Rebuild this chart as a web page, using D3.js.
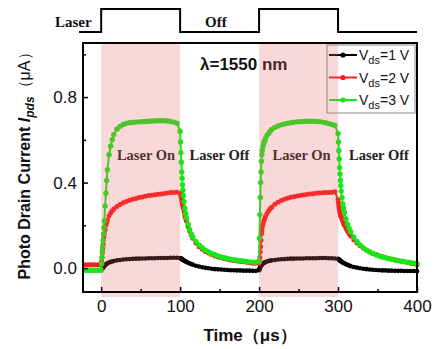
<!DOCTYPE html>
<html><head><meta charset="utf-8">
<script src="https://cdn.jsdelivr.net/npm/d3@7/dist/d3.min.js"></script>
<style>body{margin:0;background:#fff}svg{display:block}</style>
</head><body><svg id="c" width="434" height="349"></svg>
<script>
// ---------------- data ----------------
const time = [-20,-16,-12,-8,-4,
 0,0.5,1,1.5,2,2.5,3,3.5,4,5,6,7,8,10,12,14,16,20,24,28,32,36,40,44,48,52,56,60,64,68,72,76,80,84,88,92,96,
 100,100.5,101,101.5,102,102.5,103,103.5,104,105,106,107,108,110,112,114,116,120,124,128,132,136,140,144,148,152,156,160,164,168,172,176,180,184,188,192,196,
 200,200.5,201,201.5,202,202.5,203,203.5,204,205,206,207,208,210,212,214,216,220,224,228,232,236,240,244,248,252,256,260,264,268,272,276,280,284,288,292,296,
 300,300.5,301,301.5,302,302.5,303,303.5,304,305,306,307,308,310,312,314,316,320,324,328,332,336,340,344,348,352,356,360,364,368,372,376,380,384,388,392,396,
 400];
const vds1 = [-0.01,-0.01,-0.01,-0.01,-0.01,
 -0.01,-0.008,-0.005,-0.002,0.0,0.003,0.005,0.008,0.01,0.014,0.017,0.02,0.022,0.026,0.029,0.031,0.033,
 0.036,0.038,0.04,0.041,0.042,0.043,0.044,0.044,0.045,0.045,0.046,0.046,0.046,0.047,0.047,0.047,0.047,0.048,0.048,0.048,
 0.047,0.046,0.045,0.044,0.042,0.041,0.04,0.038,0.037,0.035,0.033,0.031,0.029,0.025,0.022,0.019,0.016,
 0.011,0.007,0.004,0.001,-0.001,-0.003,-0.005,-0.006,-0.007,-0.008,-0.009,-0.01,-0.01,-0.011,-0.011,-0.012,-0.012,-0.012,-0.013,-0.013,
 -0.01,-0.005,0.0,0.004,0.008,0.011,0.014,0.016,0.018,0.021,0.024,0.026,0.028,0.031,0.033,0.035,0.036,
 0.038,0.04,0.041,0.042,0.043,0.044,0.044,0.045,0.045,0.045,0.046,0.046,0.046,0.046,0.047,0.047,0.047,0.046,0.046,0.045,
 0.043,0.042,0.04,0.039,0.037,0.036,0.034,0.033,0.031,0.028,0.026,0.024,0.022,0.018,0.015,0.012,0.009,
 0.005,0.002,-0.001,-0.003,-0.005,-0.007,-0.008,-0.009,-0.01,-0.011,-0.011,-0.012,-0.012,-0.013,-0.013,-0.013,-0.014,-0.014,-0.014,-0.014,
 -0.015];
const vds2 = [0.015,0.015,0.015,0.015,0.015,
 0.015,0.03,0.05,0.07,0.09,0.11,0.13,0.145,0.16,0.18,0.2,0.213,0.225,0.245,0.258,0.268,0.276,
 0.288,0.297,0.305,0.311,0.317,0.322,0.326,0.33,0.333,0.336,0.339,0.341,0.343,0.345,0.347,0.349,0.351,0.353,0.354,0.355,
 0.35,0.345,0.34,0.33,0.32,0.31,0.3,0.29,0.28,0.262,0.245,0.232,0.22,0.195,0.173,0.155,0.14,
 0.117,0.1,0.088,0.078,0.07,0.063,0.057,0.052,0.048,0.044,0.041,0.038,0.035,0.033,0.031,0.029,0.027,0.025,0.023,0.022,
 0.022,0.035,0.05,0.075,0.1,0.13,0.16,0.175,0.19,0.205,0.22,0.23,0.24,0.255,0.267,0.277,0.285,
 0.298,0.308,0.316,0.322,0.327,0.331,0.334,0.337,0.34,0.342,0.344,0.346,0.348,0.35,0.351,0.352,0.353,0.354,0.355,0.357,
 0.32,0.305,0.29,0.28,0.27,0.26,0.25,0.245,0.24,0.23,0.22,0.21,0.2,0.185,0.172,0.16,0.15,
 0.132,0.117,0.104,0.093,0.084,0.076,0.069,0.063,0.058,0.053,0.049,0.045,0.041,0.038,0.035,0.032,0.029,0.026,0.023,0.02,
 0.016];
const vds3 = [-0.01,-0.01,-0.01,-0.01,-0.01,
 -0.01,0.02,0.05,0.075,0.1,0.13,0.16,0.19,0.22,0.29,0.35,0.41,0.46,0.53,0.57,0.6,0.625,
 0.65,0.663,0.672,0.677,0.68,0.682,0.683,0.684,0.685,0.686,0.687,0.688,0.688,0.689,0.689,0.689,0.688,0.686,0.683,0.678,
 0.64,0.59,0.54,0.495,0.45,0.42,0.39,0.365,0.34,0.31,0.28,0.255,0.235,0.205,0.18,0.16,0.145,
 0.125,0.108,0.095,0.084,0.075,0.068,0.062,0.057,0.052,0.048,0.045,0.042,0.039,0.037,0.035,0.033,0.031,0.029,0.028,0.027,
 0.03,0.14,0.25,0.33,0.4,0.45,0.5,0.53,0.55,0.57,0.585,0.595,0.605,0.62,0.63,0.64,0.648,
 0.658,0.665,0.67,0.674,0.677,0.68,0.682,0.684,0.685,0.686,0.687,0.687,0.687,0.686,0.685,0.683,0.68,0.676,0.672,0.667,
 0.63,0.59,0.55,0.51,0.47,0.44,0.41,0.385,0.36,0.33,0.3,0.28,0.26,0.23,0.205,0.185,0.17,
 0.145,0.125,0.108,0.095,0.084,0.075,0.068,0.062,0.057,0.052,0.048,0.044,0.041,0.038,0.035,0.032,0.03,0.027,0.025,0.023,
 0.02];
const seriesLabels = ["=1 V", "=2 V", "=3 V"];
const seriesColors = ["#000000", "#ff1a1a", "#19e619"];
const xTicks = [0, 100, 200, 300, 400];
const xMinorTicks = [50, 150, 250, 350];
const yTicks = [0.0, 0.4, 0.8];
const yMinorTicks = [0.2, 0.6, 1.0];
const laserOn = [[0, 100], [200, 300]];
const pulseTimes = [-28, 0, 0, 100, 100, 200, 200, 300, 300, 400];
const pulseState = [0, 0, 1, 1, 0, 0, 1, 1, 0, 0];
const phaseLabels = [["Laser On", 20], ["Laser Off", 112], ["Laser On", 217], ["Laser Off", 314]];

// ---------------- chart ----------------
const svg = d3.select("#c");
const L = 83, R = 417, T = 43, B = 292;
const x = d3.scaleLinear().domain([-23, 400]).range([L, R]);
const y = d3.scaleLinear().domain([-0.112, 1.053]).range([B, T]);
const sans = "Arial, 'Liberation Sans', sans-serif";
const serif = "'Times New Roman', 'Liberation Serif', serif";

const series = [vds1, vds2, vds3].map((vals, i) => ({
  color: seriesColors[i], label: seriesLabels[i],
  pts: time.map((t, j) => [t, vals[j]])
}));
const radii = [2.3, 2.5, 2.7];

const line = d3.line().x(d => x(d[0])).y(d => y(d[1]));
const gData = svg.append("g");
series.forEach((s, i) => {
  gData.append("path").attr("d", line(s.pts)).attr("fill", "none")
    .attr("stroke", s.color).attr("stroke-width", 2);
  gData.selectAll(null).data(s.pts).enter().append("circle")
    .attr("cx", d => x(d[0])).attr("cy", d => y(d[1]))
    .attr("r", radii[i]).attr("fill", s.color);
});

// phase labels
svg.selectAll(null).data(phaseLabels).enter().append("text")
  .attr("x", d => x(d[1])).attr("y", 160)
  .attr("font-family", serif).attr("font-weight", "bold").attr("font-size", 14.5)
  .attr("fill", "#222").text(d => d[0]);

// wavelength
svg.append("text").attr("x", 200).attr("y", 70).attr("font-family", sans)
  .attr("font-weight", "bold").attr("font-size", 17).attr("fill", "#111").text("λ=1550 nm");

// legend
const lg = svg.append("g");
lg.append("rect").attr("x", 327).attr("y", 45).attr("width", 88).attr("height", 68)
  .attr("fill", "#fff").attr("stroke", "#888").attr("stroke-width", 1);
series.forEach((s, i) => {
  const yy = 55 + i * 22.5;
  lg.append("line").attr("x1", 329).attr("x2", 357).attr("y1", yy).attr("y2", yy)
    .attr("stroke", s.color).attr("stroke-width", 2);
  lg.append("circle").attr("cx", 343).attr("cy", yy).attr("r", 2.6).attr("fill", s.color);
  const t = lg.append("text").attr("x", 359).attr("y", yy + 5).attr("font-family", sans)
    .attr("font-size", 14).attr("fill", "#111");
  t.append("tspan").text("V");
  t.append("tspan").attr("font-size", 11).attr("dy", 4).text("ds");
  t.append("tspan").attr("dy", -4).text(s.label);
});

// pink overlay (drawn on top with transparency)
svg.selectAll(null).data(laserOn).enter().append("rect")
  .attr("x", d => x(d[0])).attr("width", d => x(d[1]) - x(d[0]))
  .attr("y", T).attr("height", B + 5 - T)
  .attr("fill", "rgb(230,100,100)").attr("fill-opacity", 0.25);

// frame
svg.append("rect").attr("x", L).attr("y", T).attr("width", R - L).attr("height", B - T)
  .attr("fill", "none").attr("stroke", "#000").attr("stroke-width", 2);

// axes
const ax = svg.append("g").attr("transform", `translate(0,${B})`)
  .call(d3.axisBottom(x).tickValues(xTicks).tickSize(-5).tickPadding(8).tickFormat(d3.format("d")));
const axm = svg.append("g").attr("transform", `translate(0,${B})`)
  .call(d3.axisBottom(x).tickValues(xMinorTicks).tickSize(-3).tickFormat(""));
const ay = svg.append("g").attr("transform", `translate(${L},0)`)
  .call(d3.axisLeft(y).tickValues(yTicks).tickSize(-5).tickPadding(6).tickFormat(d3.format(".1f")));
const aym = svg.append("g").attr("transform", `translate(${L},0)`)
  .call(d3.axisLeft(y).tickValues(yMinorTicks).tickSize(-3).tickFormat(""));
[ax, axm, ay, aym].forEach(g => {
  g.select(".domain").remove();
  g.selectAll("line").attr("stroke", "#000").attr("stroke-width", 1.5);
  g.selectAll("text").attr("font-family", sans).attr("font-size", 17).attr("fill", "#111");
});

// axis titles
svg.append("text").attr("x", 250).attr("y", 341).attr("text-anchor", "middle")
  .attr("font-family", sans).attr("font-weight", "bold").attr("font-size", 17).attr("fill", "#111")
  .text("Time（μs）");
const yt = svg.append("text").attr("transform", "translate(30,162) rotate(-90)")
  .attr("text-anchor", "middle").attr("font-family", sans).attr("font-weight", "bold")
  .attr("font-size", 16).attr("fill", "#111");
yt.append("tspan").text("Photo Drain Current ");
yt.append("tspan").attr("font-style", "italic").text("I");
yt.append("tspan").attr("font-style", "italic").attr("font-size", 12).attr("dy", 4).text("pds");
yt.append("tspan").attr("dy", -4).attr("font-weight", "normal").text("（μA）");

// laser pulse
const py = d3.scaleLinear().domain([0, 1]).range([32, 9]);
svg.append("path").attr("d", d3.line().x(d => x(d[0])).y(d => py(d[1]))(pulseTimes.map((t, i) => [t, pulseState[i]])))
  .attr("fill", "none").attr("stroke", "#000").attr("stroke-width", 2);
svg.append("text").attr("x", 55).attr("y", 27).attr("font-family", serif).attr("font-weight", "bold")
  .attr("font-size", 15).attr("fill", "#111").text("Laser");
svg.append("text").attr("x", 205).attr("y", 27).attr("font-family", serif).attr("font-weight", "bold")
  .attr("font-size", 15).attr("fill", "#111").text("Off");
</script></body></html>
